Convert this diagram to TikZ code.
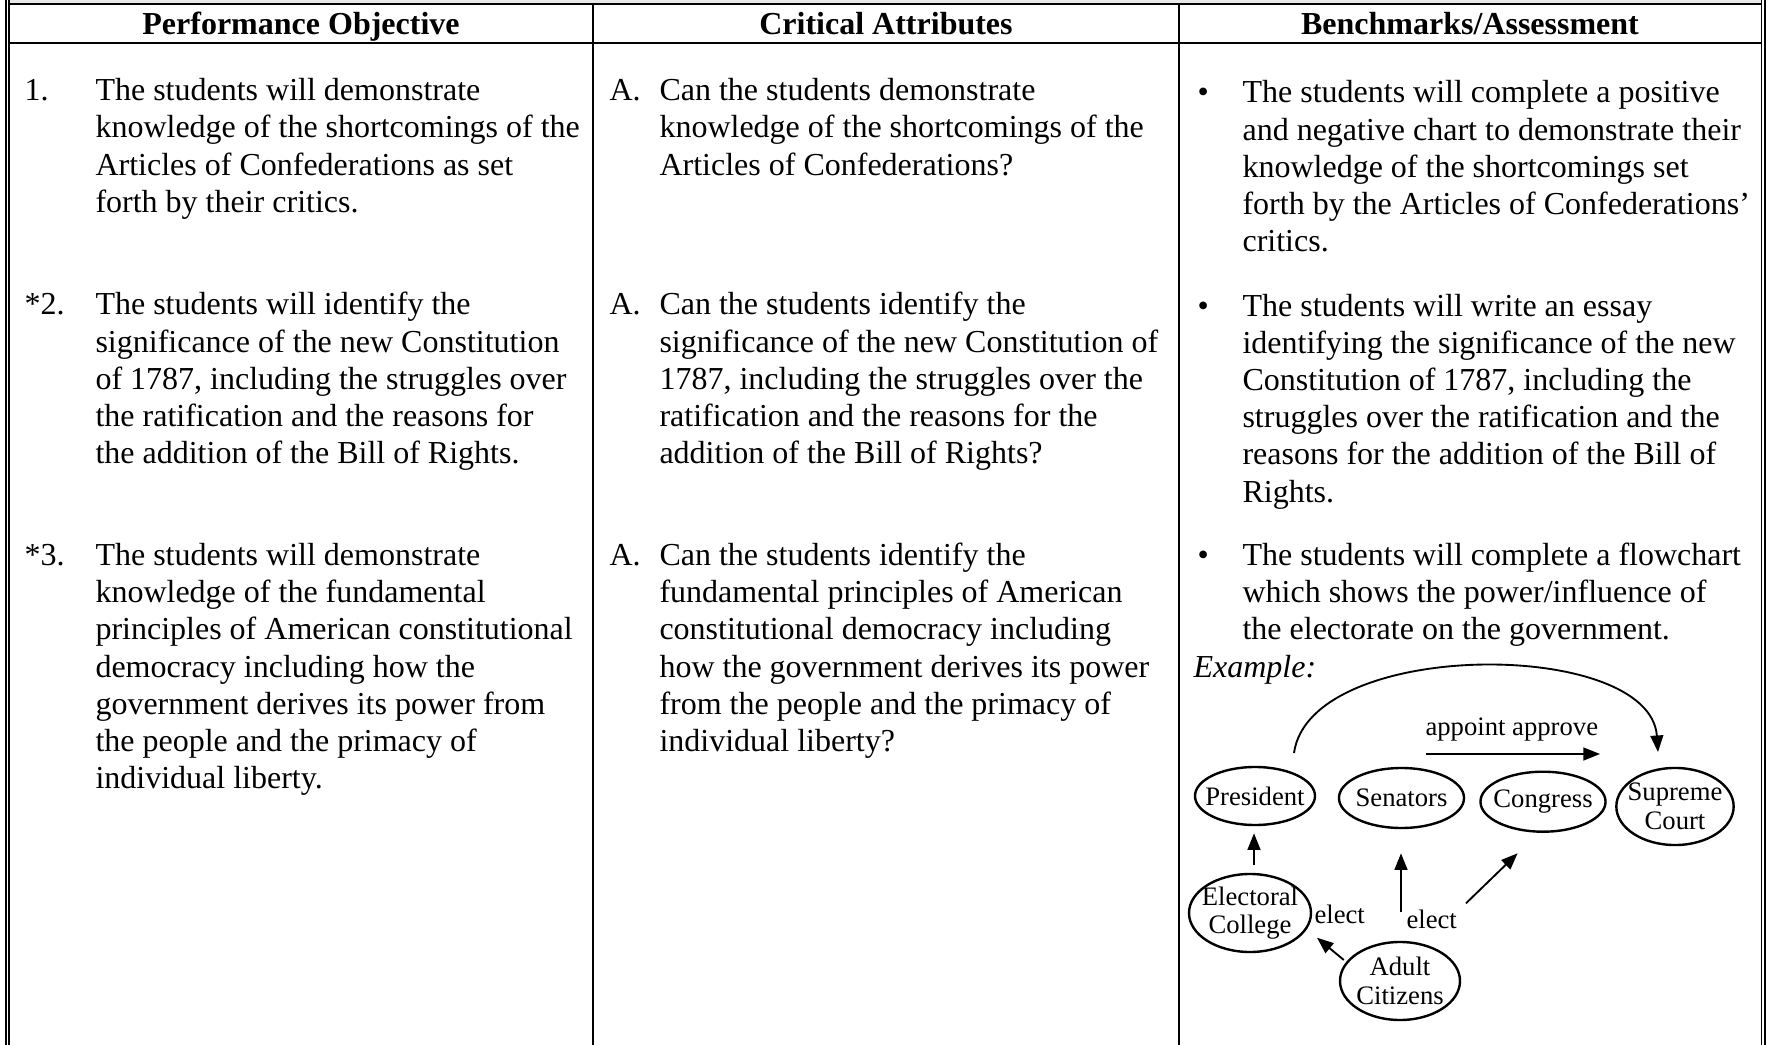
\documentclass[tikz,border=0pt]{standalone}
\usepackage{fontspec}
\setmainfont{Liberation Serif}
\usetikzlibrary{shapes.geometric,arrows.meta}

\begin{document}
\begin{tikzpicture}
[x=0.375pt, y=-0.375pt,
  ruledecorate/.style={line width=0.75pt},
  borderdecorate/.style={line width=0.7pt},
  headdecorate/.style={anchor=base, inner sep=0pt, font=\fontsize{12}{13.95}\selectfont\bfseries},
  textdecorate/.style={anchor=base west, inner sep=0pt, align=left, font=\fontsize{12}{13.95}\selectfont},
  ovaldecorate/.style={shape=ellipse, draw, line width=0.9pt, inner xsep=-3pt, inner ysep=0pt, align=center, font=\fontsize{10}{10.75}\selectfont},
  labeldecorate/.style={anchor=base west, inner sep=0pt, font=\fontsize{10}{10.75}\selectfont},
  arrowdecorate/.style={-{Triangle[length=6.2pt,width=4.8pt]}, line width=0.7pt}]
\useasboundingbox (0,0) rectangle (1769,1045);
%% table frame
\fill[gray!18] (9.3,0) rectangle (1761.5,3.5);
\foreach \x in {5.7, 9.3, 1761.5, 1764.8}
{
  \draw[borderdecorate] (\x,0) -- (\x,1045);
}
\foreach \y in {3.8, 43.5}
{
  \draw[ruledecorate] (9.3,\y) -- (1761.5,\y);
}
\foreach \x in {593.3, 1179}
{
  \draw[ruledecorate] (\x,3.8) -- (\x,1045);
}
%% column heads
\node (hpo) [headdecorate] at (301,34.3) {Performance Objective};
\node (hca) [headdecorate] at (886,34.3) {Critical Attributes};
\node (hba) [headdecorate] at (1470,34.3) {Benchmarks/Assessment};
%% item marks
\foreach \nodename/\x/\y/\txt in {n1/24/100.7/1., n2/24/315/*2., n3/24/565.5/*3.,
  la1/609/100.7/A., la2/609/315/A., la3/609/565.5/A.,
  bu1/1197/103/\textbullet, bu2/1197/316/\textbullet, bu3/1197/565.5/\textbullet}
{
  \node (\nodename) [textdecorate] at (\x,\y) {\txt};
}
%% performance objectives (placed by their last line)
\node (po1) [textdecorate] at (95,212.3) {The students will demonstrate\\
  knowledge of the shortcomings of the\\Articles of Confederations as set\\
  forth by their critics.};
\node (po2) [textdecorate] at (95,463.8) {The students will identify the\\
  significance of the new Constitution\\of 1787, including the struggles over\\
  the ratification and the reasons for\\the addition of the Bill of Rights.};
\node (po3) [textdecorate] at (95,788.7) {The students will demonstrate\\
  knowledge of the fundamental\\principles of American constitutional\\
  democracy including how the\\government derives its power from\\
  the people and the primacy of\\individual liberty.};
%% critical attributes
\node (ca1) [textdecorate] at (659,175.1) {Can the students demonstrate\\
  knowledge of the shortcomings of the\\Articles of Confederations?};
\node (ca2) [textdecorate] at (659,463.8) {Can the students identify the\\
  significance of the new Constitution of\\1787, including the struggles over the\\
  ratification and the reasons for the\\addition of the Bill of Rights?};
\node (ca3) [textdecorate] at (659,751.5) {Can the students identify the\\
  fundamental principles of American\\constitutional democracy including\\
  how the government derives its power\\from the people and the primacy of\\
  individual liberty?};
%% benchmarks
\node (ba1) [textdecorate] at (1242,251.8) {The students will complete a positive\\
  and negative chart to demonstrate their\\knowledge of the shortcomings set\\
  forth by the Articles of Confederations’\\critics.};
\node (ba2) [textdecorate] at (1242,502) {The students will write an essay\\
  identifying the significance of the new\\Constitution of 1787, including the\\
  struggles over the ratification and the\\reasons for the addition of the Bill of\\
  Rights.};
\node (ba3) [textdecorate] at (1242,639.9) {The students will complete a flowchart\\
  which shows the power/influence of\\the electorate on the government.};
\node (ex) [textdecorate] at (1193,677) {\itshape Example:};
%% flowchart ovals
\node (pres) [ovaldecorate, minimum width=45pt, minimum height=21.75pt] at (1255,796) {President};
\node (sen) [ovaldecorate, minimum width=46.9pt, minimum height=22.5pt] at (1401.5,798) {Senators};
\node (cong) [ovaldecorate, minimum width=46.9pt, minimum height=22.5pt] at (1543,801.7) {Congress};
\node (court) [ovaldecorate, minimum width=44pt, minimum height=28.9pt] at (1675,806.5) {Supreme\\Court};
\node (elec) [ovaldecorate, minimum width=45.75pt, minimum height=29.25pt] at (1250,913) {Electoral\\College};
\node (adult) [ovaldecorate, minimum width=45pt, minimum height=29.25pt] at (1400,981) {Adult\\Citizens};
%% labels
\node (appr) [labeldecorate] at (1425,735) {appoint approve};
\node (el1) [labeldecorate] at (1314,923.3) {elect};
\node (el2) [labeldecorate] at (1406,928.3) {elect};
%% arrow ends
\coordinate (arcs) at (1294,753);
\coordinate (arce) at (1658,752);
\coordinate (apps) at (1426,754);
\coordinate (appe) at (1600,754);
\coordinate (ecs) at (1254,865);
\coordinate (ece) at (1254,833.3);
\coordinate (acs) at (1343.8,960);
\coordinate (ace) at (1317,937.7);
\coordinate (sens) at (1401,911.7);
\coordinate (sene) at (1401,853.3);
\coordinate (cons) at (1466,903.3);
\coordinate (cone) at (1517.6,853.3);
%% arrows
\draw[arrowdecorate] (arcs) .. controls (1310,638) and (1650,638) .. (arce);
\foreach \startnode/\endnode in {apps/appe, ecs/ece, acs/ace, sens/sene, cons/cone}
{
  \draw[arrowdecorate] (\startnode) -- (\endnode);
}
\end{tikzpicture}
\end{document}
